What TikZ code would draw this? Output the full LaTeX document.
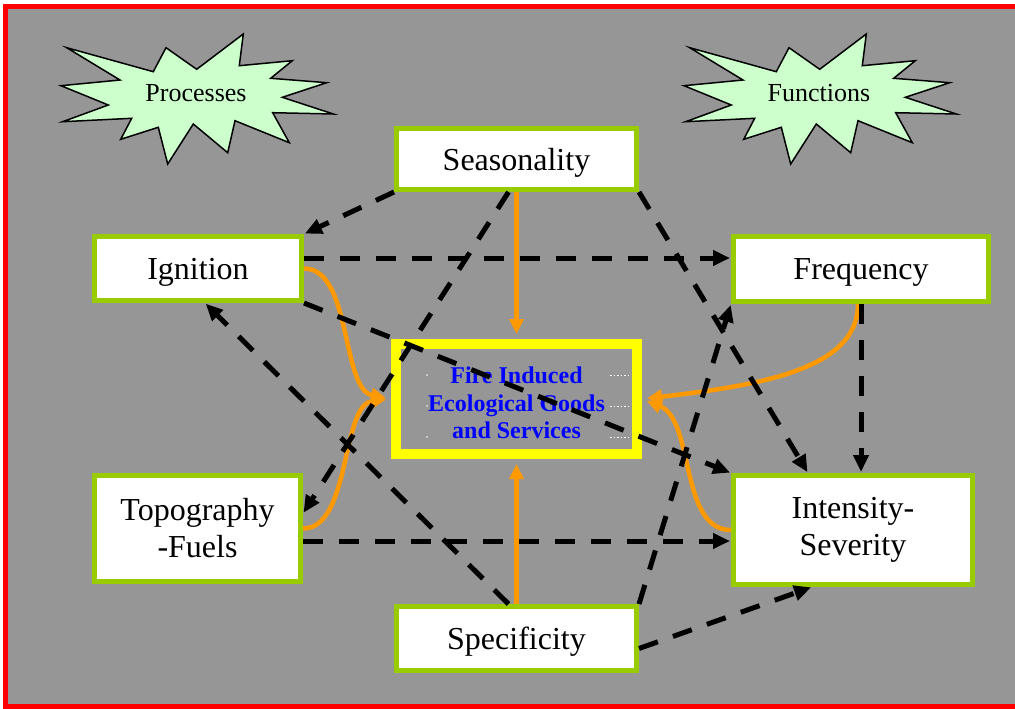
\documentclass[tikz,border=0pt]{standalone}
\usepackage{fontspec}
\setmainfont{Liberation Serif}
\usetikzlibrary{arrows.meta}
\definecolor{bggray}{RGB}{150,150,150}
\definecolor{boxgreen}{RGB}{153,204,0}
\definecolor{starfill}{RGB}{204,255,204}
\definecolor{fireorange}{RGB}{255,153,0}
\definecolor{ctrblue}{RGB}{0,0,255}
\definecolor{ctryellow}{RGB}{255,255,0}
\begin{document}
\begin{tikzpicture}[x=1pt,y=-1pt,
  factor/.style={draw=boxgreen, line width=5pt, fill=white, align=center,
    inner sep=0pt, font=\fontsize{32}{37}\selectfont},
  oneline/.style={text depth=0pt},
  centerbox/.style={draw=ctryellow, line width=10pt, inner sep=0pt,
    minimum width=241pt, minimum height=110pt},
  centertext/.style={text=ctrblue, align=center, inner sep=0pt,
    font=\fontsize{24}{27.5}\selectfont\bfseries},
  startext/.style={inner sep=0pt, font=\fontsize{26}{30}\selectfont},
  starshape/.style={draw=black, fill=starfill, line width=1.5pt, line join=miter},
  dasharrow/.style={draw=black, line width=5pt, dash pattern=on 20pt off 16pt,
    -{Triangle[length=17pt,width=15pt]}, shorten >=1pt},
  orangearrow/.style={draw=fireorange, line width=4.5pt,
    -{Triangle[length=15pt,width=14pt]}, shorten >=5pt}
]
\useasboundingbox (0,0) rectangle (1015,709);
% background and red frame
\begin{scope}
\clip (0,0) rectangle (1015,709);
\fill[white] (0,0) rectangle (1015,709);
\fill[bggray] (5.5,6.5) rectangle (1015,706.5);
\draw[red, line width=5pt] (5.5,6.5) rectangle (1040,706.5);
\end{scope}

% stars
\foreach \sx in {0,623}{
  \draw[starshape, shift={(\sx,0)}]
    (66.7,47.7) -- (153.3,71.7) -- (166,47.7) -- (196.7,69.3) -- (243.3,34)
    -- (239.3,65.7) -- (292.3,60.7) -- (270.7,78.3) -- (326.7,82.7)
    -- (282.3,97.3) -- (333.3,114) -- (272.7,112.7) -- (289.3,142.7)
    -- (235,120.7) -- (227.7,152.7) -- (193.3,124) -- (167.7,164)
    -- (158.3,127.3) -- (120.7,139.3) -- (131.7,118.3) -- (62.7,121.7)
    -- (108.3,105) -- (61,85.7) -- (120,80) -- cycle;
}
\node[startext] (proc) at (196,93) {Processes};
\node[startext] (func) at (819,93) {Functions};

% factor boxes
\node[factor, oneline, minimum width=240pt, minimum height=61pt] (seas) at (516.5,159) {Seasonality};
\node[factor, oneline, minimum width=207pt, minimum height=64pt] (ign) at (198,268.5) {Ignition};
\node[factor, oneline, minimum width=255pt, minimum height=65pt] (freq) at (861,269) {Frequency};
\node[factor, minimum width=206pt, minimum height=106pt] (topo) at (197.5,528.5) {Topography\\-Fuels};
\node[factor, minimum width=239pt, minimum height=109pt] (int) at (853,530) {Intensity-\\Severity};
\node[factor, oneline, minimum width=240pt, minimum height=64pt] (spec) at (516.5,638.5) {Specificity};

% center box
\node[centerbox] (ctr) at (516.5,399) {};
\foreach \yy in {375,406,437}{
  \fill[white] (427,\yy) circle (0.8);
  \draw[white, line width=0.8pt, dash pattern=on 1.5pt off 2pt] (610,\yy) -- (628,\yy);
}
\node[centertext] (ctrtext) at (516.5,403) {Fire Induced\\Ecological Goods\\and Services};

% orange arrows to the center
\draw[orangearrow] (seas.south) -- (ctr.north);
\draw[orangearrow] (spec.north) -- (ctr.south);
\draw[orangearrow] (ign.east) .. controls +(48,0) and +(-50,-10) .. (ctr.west);
\draw[orangearrow] (topo.east) .. controls +(48,0) and +(-50,6) .. (ctr.west);
\draw[orangearrow] ([xshift=-3pt]freq.south) .. controls +(0,65) and +(120,-14) .. (ctr.east);
\draw[orangearrow] (int.west) .. controls +(-52,0) and +(53,21) .. (ctr.east);

% dashed arrows
\draw[dasharrow] (seas.south west) -- (ign.north east);
\draw[dasharrow] ([yshift=10.5pt]ign.east) -- ([yshift=11pt]freq.west);
\draw[dasharrow] (ign.south east) -- (int.north west);
\draw[dasharrow] ([xshift=-8pt]seas.south) -- ([yshift=15pt]topo.east);
\draw[dasharrow] (seas.south east) -- ([xshift=-45pt]int.north);
\draw[dasharrow] (freq.south) -- (freq.south |- int.north);
\draw[dasharrow] ([yshift=-12.5pt]topo.east) -- ([yshift=-11pt]int.west);
\draw[dasharrow] ([xshift=-8pt]spec.north) -- ([xshift=7pt]ign.south);
\draw[dasharrow] (spec.north east) -- (freq.south west);
\draw[dasharrow] ([yshift=-10pt]spec.east) -- ([xshift=-41pt]int.south);
\end{tikzpicture}
\end{document}
